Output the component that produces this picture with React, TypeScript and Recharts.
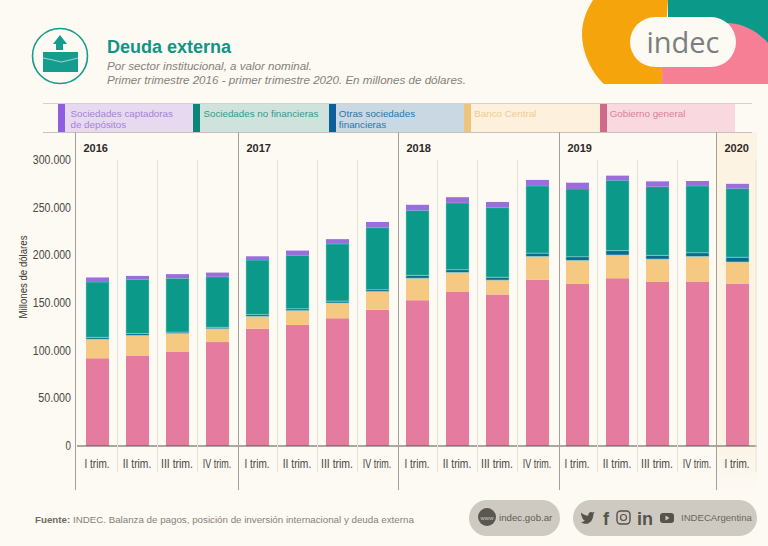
import React from "react";
import { Bar, BarChart, Legend, XAxis, YAxis } from "recharts";

const quarters = ["I trim.", "II trim.", "III trim.", "IV trim.", "I trim.", "II trim.", "III trim.", "IV trim.", "I trim.", "II trim.", "III trim.", "IV trim.", "I trim.", "II trim.", "III trim.", "IV trim.", "I trim."];
const years = ["2016", "", "", "", "2017", "", "", "", "2018", "", "", "", "2019", "", "", "", "2020"];
const gobierno = [92000, 95000, 99000, 109000, 123000, 127000, 134000, 143000, 153000, 162000, 159000, 174400, 170000, 176000, 172000, 172600, 170000];
const bancoCentral = [20000, 21000, 19000, 14000, 13000, 15000, 16000, 19000, 23000, 20000, 15000, 24400, 24600, 24300, 24000, 26200, 23000];
const otras = [2000, 2000, 1500, 1500, 2000, 2000, 2000, 2000, 3000, 3000, 3000, 3500, 4000, 4700, 4000, 4000, 5000];
const noFinancieras = [58000, 57000, 56500, 53000, 57000, 56000, 60000, 65000, 68000, 70000, 73000, 70500, 71000, 73700, 72000, 70000, 72000];
const captadoras = [4800, 3400, 4300, 4400, 4000, 5000, 5000, 6000, 6000, 6000, 6000, 6300, 6600, 4900, 5600, 5200, 5000];
const yTicks = [0, 50000, 100000, 150000, 200000, 250000, 300000];

const data = quarters.map((q, i) => ({
  key: `${i}`,
  quarter: q,
  year: years[i],
  gobierno: gobierno[i],
  bancoCentral: bancoCentral[i],
  otras: otras[i],
  noFinancieras: noFinancieras[i],
  captadoras: captadoras[i],
}));

const legendItems = [
  { label: ["Sociedades captadoras", "de depósitos"], swatch: "#8e5fe0", bg: "#e7d9f0", text: "#a582dc" },
  { label: ["Sociedades no financieras"], swatch: "#0b8577", bg: "#cfe3dc", text: "#2f9a8c" },
  { label: ["Otras sociedades", "financieras"], swatch: "#0d5f9a", bg: "#c9d8e2", text: "#2a76ad" },
  { label: ["Banco Central"], swatch: "#efc57e", bg: "#fdf0dd", text: "#f0cb8e" },
  { label: ["Gobierno general"], swatch: "#cf6a88", bg: "#f9d9df", text: "#dc7f98" },
];

const SANS = "'Liberation Sans', Arial, sans-serif";

// The year rules of the reference sit a pixel or two off the band edges.
const yearRuleNudge: Record<string, number> = { "2016": -2, "2017": 1, "2018": 1, "2019": 2, "2020": -1 };

const fmt = (v: number) => (v === 0 ? "0" : `${v / 1000}.000`);

function QuarterTick(props: any) {
  const { x, y, index, payload } = props;
  const row = data[index] ?? data[payload.index] ?? data[Number(payload.value)];
  const isYear = row.year !== "";
  const left = Math.floor(x - 20) + 0.5 + (isYear ? yearRuleNudge[row.year] : 0);
  const lineTop = isYear ? y - 322 : y - 294;
  const lineBottom = isYear ? y + 36 : y + 18;
  return (
    <g>
      <line x1={left} x2={left} y1={lineTop} y2={lineBottom} stroke={isYear ? "#a5a097" : "#e6e2da"} strokeWidth={1} />
      {index === data.length - 1 && <line x1={x + 19} x2={x + 19} y1={lineTop + 28} y2={lineBottom - 18} stroke="#e6e2da" />}
      {isYear && (
        <text x={left + 8} y={y - 302} fontSize={11} fontWeight={700} fill="#2e2a26" fontFamily={SANS}>
          {row.year}
        </text>
      )}
      <text x={x} y={y + 14} textAnchor="middle" fontSize={12} fill="#4a4640" fontFamily={SANS} textLength={25 + (row.quarter.length - 7) * 3.5} lengthAdjust="spacingAndGlyphs">
        {row.quarter}
      </text>
    </g>
  );
}

function ValueTick(props: any) {
  const { y, payload } = props;
  const label = fmt(payload.value);
  return (
    <text x={71} y={y + 4} textAnchor="end" fontSize={12} fill="#4a4640" fontFamily={SANS} textLength={label.length * 5.45} lengthAdjust="spacingAndGlyphs">
      {label}
    </text>
  );
}

function AxisTitle() {
  return (
    <text transform="translate(26.5 277) rotate(-90)" textAnchor="middle" fontSize={10} fill="#3a3630" fontFamily={SANS} textLength={83} lengthAdjust="spacingAndGlyphs">
      Millones de dólares
    </text>
  );
}

function LegendBand() {
  return (
    <div style={{ display: "flex", width: 677, height: 28, fontFamily: SANS, fontSize: 9.8, lineHeight: "11px" }}>
      {legendItems.map((item, i) => (
        <div key={item.label[0]} style={{ flex: 1, display: "flex", background: item.bg, color: item.text }}>
          <div style={{ width: 7, background: item.swatch, flexShrink: 0 }} />
          <div style={{ padding: `4px 0 0 ${i === 0 ? 5.5 : 3}px`, whiteSpace: "nowrap" }}>
            {item.label.map((l) => (
              <div key={l}>{l}</div>
            ))}
          </div>
        </div>
      ))}
    </div>
  );
}

function Header() {
  return (
    <svg width={768} height={546} style={{ position: "absolute", left: 0, top: 0 }}>
      <defs>
        <linearGradient id="band2020" x1="0" y1="0" x2="0" y2="1">
          <stop offset="0.85" stopColor="#fcf3e3" />
          <stop offset="1" stopColor="#fdf9f3" />
        </linearGradient>
      </defs>
      <rect x={716} y={132} width={41} height={358} fill="url(#band2020)" />
      <line x1={43} x2={752} y1={103.5} y2={103.5} stroke="#d6d1c8" />
      <line x1={43} x2={752} y1={132.5} y2={132.5} stroke="#c8c3ba" />

      <path d="M668 0H768V50H668Z" fill="#0b9a8a" />
      <path d="M593 0H668L662 84H604C591 72 582 52 582 34C582 20 587 10 593 0Z" fill="#f5a40c" />
      <path d="M662 84L664 23H728C745 24 758 32 768 43V84Z" fill="#f67f96" />
      <rect x={630} y={17} width={106} height={50} rx={25} fill="#fdf9f3" />
      <text x={683} y={53} textAnchor="middle" fontSize={29} fill="#7a7f80" fontFamily="'Open Sans', sans-serif">indec</text>

      <circle cx={60} cy={56} r={27.5} fill="none" stroke="#149c8c" strokeWidth={1.6} />
      <rect x={43} y={52} width={35} height={20} fill="#149c8c" />
      <path d="M43 58L53 60L61 62L70 60L78 58" fill="none" stroke="#d9efe9" strokeWidth={0.7} />
      <path d="M60 35L67 44H63V50H56V44H53Z" fill="#149c8c" />

      <text x={107} y={53} fontSize={18} fontWeight={700} fill="#0f9586" fontFamily={SANS}>Deuda externa</text>
      <text x={107} y={70} fontSize={11.6} fontStyle="italic" fill="#85827c" fontFamily={SANS}>Por sector institucional, a valor nominal.</text>
      <text x={107} y={84} fontSize={11.6} fontStyle="italic" fill="#85827c" fontFamily={SANS}>Primer trimestre 2016 - primer trimestre 2020. En millones de dólares.</text>

      <text x={35} y={523} fontSize={9.75} fill="#85817a" fontFamily={SANS}>
        <tspan fontWeight={700} fill="#6e6a64">Fuente:</tspan> INDEC. Balanza de pagos, posición de inversión internacional y deuda externa
      </text>

      <rect x={469} y={500} width={91} height={36} rx={18} fill="#cfcac1" />
      <circle cx={487} cy={517} r={9} fill="#5a5650" />
      <text x={487} y={519.5} textAnchor="middle" fontSize={6} fill="#cfcac1" fontFamily={SANS}>www</text>
      <text x={499} y={521} fontSize={9.7} fill="#5f5b55" fontFamily={SANS}>indec.gob.ar</text>

      <rect x={573} y={500} width={184} height={36} rx={18} fill="#cfcac1" />
      <g transform="translate(581 511) scale(0.65 0.8) translate(-581 -511)">
        <path d="M581 513C585 516 589 517 592 517C592 513 596 511 599 513L602 512L600 515C600 522 595 527 588 527C585 527 583 526 581 525C584 525 586 524 587 523C584 522 583 520 583 519C582 518 581 516 581 513Z" fill="#56524c" />
      </g>
      <text x={603} y={525} fontSize={18} fontWeight={700} fill="#56524c" fontFamily={SANS}>f</text>
      <rect x={617} y={511} width={13} height={13} rx={3.5} fill="none" stroke="#56524c" strokeWidth={1.4} />
      <circle cx={623.5} cy={517.5} r={3} fill="none" stroke="#56524c" strokeWidth={1.2} />
      <text x={637} y={525} fontSize={18} fontWeight={700} fill="#56524c" fontFamily={SANS}>in</text>
      <rect x={660} y={513} width={14} height={10} rx={3} fill="#56524c" />
      <path d="M665.5 515.5V520.5L669.5 518Z" fill="#cfcac1" />
      <text x={681} y={521} fontSize={9.6} fill="#6a665f" fontFamily={SANS}>INDECArgentina</text>
    </svg>
  );
}

export default function App() {
  return (
    <div style={{ position: "absolute", left: 0, top: 0, width: 768, height: 546, overflow: "hidden", background: "#fdf9f3" }}>
      <Header />
      <div style={{ position: "absolute", left: 0, top: 0 }}>
        <BarChart width={768} height={546} data={data} margin={{ top: 132, right: 11, bottom: 40, left: 0 }} barSize={23}>
          <Legend
            verticalAlign="top"
            content={() => <LegendBand />}
            wrapperStyle={{ position: "absolute", left: 58, top: 104, width: 677, height: 28 }}
          />
          <XAxis dataKey="key" height={60} tickLine={false} axisLine={{ stroke: "#5a5650", strokeWidth: 1.2 }} interval={0} tick={<QuarterTick />} />
          <YAxis
            width={77}
            domain={[0, 300000]}
            ticks={yTicks}
            tickLine={false}
            axisLine={false}
            tick={<ValueTick />}
            label={{ content: () => <AxisTitle /> }}
          />
          <Bar dataKey="gobierno" stackId="a" fill="#e57b9e" isAnimationActive={false} name="Gobierno general" />
          <Bar dataKey="bancoCentral" stackId="a" fill="#f5c982" isAnimationActive={false} name="Banco Central" />
          <Bar dataKey="otras" stackId="a" fill="#0b6a8f" stroke="#8fdcd8" strokeWidth={0.6} isAnimationActive={false} name="Otras sociedades financieras" />
          <Bar dataKey="noFinancieras" stackId="a" fill="#0b9a8a" stroke="#8fdcd8" strokeWidth={0.5} isAnimationActive={false} name="Sociedades no financieras" />
          <Bar dataKey="captadoras" stackId="a" fill="#9a6fdc" isAnimationActive={false} name="Sociedades captadoras de depósitos" />
        </BarChart>
      </div>
    </div>
  );
}
